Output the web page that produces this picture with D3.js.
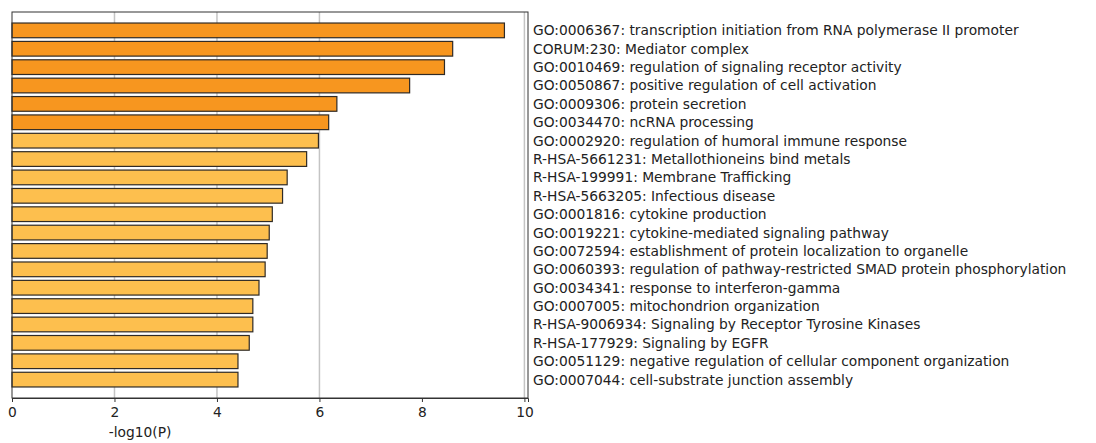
<!DOCTYPE html>
<html>
<head>
<meta charset="utf-8">
<script src="https://cdn.jsdelivr.net/npm/d3@7"></script>
<style>
  body { margin: 0; background: #fff; }
  svg { display: block; }
  text { font-family: "DejaVu Sans", sans-serif; }
</style>
</head>
<body>
<script>
const terms = [
  "GO:0006367: transcription initiation from RNA polymerase II promoter",
  "CORUM:230: Mediator complex",
  "GO:0010469: regulation of signaling receptor activity",
  "GO:0050867: positive regulation of cell activation",
  "GO:0009306: protein secretion",
  "GO:0034470: ncRNA processing",
  "GO:0002920: regulation of humoral immune response",
  "R-HSA-5661231: Metallothioneins bind metals",
  "R-HSA-199991: Membrane Trafficking",
  "R-HSA-5663205: Infectious disease",
  "GO:0001816: cytokine production",
  "GO:0019221: cytokine-mediated signaling pathway",
  "GO:0072594: establishment of protein localization to organelle",
  "GO:0060393: regulation of pathway-restricted SMAD protein phosphorylation",
  "GO:0034341: response to interferon-gamma",
  "GO:0007005: mitochondrion organization",
  "R-HSA-9006934: Signaling by Receptor Tyrosine Kinases",
  "R-HSA-177929: Signaling by EGFR",
  "GO:0051129: negative regulation of cellular component organization",
  "GO:0007044: cell-substrate junction assembly"
];
const logP = [9.61, 8.60, 8.44, 7.76, 6.34, 6.18, 5.98, 5.75, 5.37, 5.28,
              5.08, 5.02, 4.98, 4.94, 4.82, 4.70, 4.70, 4.63, 4.41, 4.41];
const tier = [1, 1, 1, 1, 1, 1, 0, 0, 0, 0, 0, 0, 0, 0, 0, 0, 0, 0, 0, 0];
const xTicks = [0, 2, 4, 6, 8, 10];
const gridVals = [2, 4, 6, 10];
const xLabel = "-log10(P)";

const W = 1096, H = 443;
const pL = 12, pR = 528, pT = 12, pB = 398;

const svg = d3.select("body").append("svg").attr("width", W).attr("height", H);

const x = d3.scaleLinear().domain([0, 10.07]).range([pL, pR]);
const y = d3.scaleLinear().domain([-1, terms.length]).range([pT, pB]);
const bh = (y(0.8) - y(0));
const color = d3.scaleOrdinal().domain([1, 0]).range(["#F7961F", "#FDBF4E"]);

// grid
svg.append("g").selectAll("line").data(gridVals).join("line")
  .attr("x1", d => x(d)).attr("x2", d => x(d))
  .attr("y1", pT).attr("y2", pB)
  .attr("stroke", "#c4c4c4").attr("stroke-width", 1.5);

// bars
svg.append("g").selectAll("rect").data(logP).join("rect")
  .attr("x", x(0))
  .attr("y", (d, i) => y(i) - bh / 2)
  .attr("width", d => x(d) - x(0))
  .attr("height", bh)
  .attr("fill", (d, i) => color(tier[i]))
  .attr("stroke", "#2f2a26").attr("stroke-width", 1.2);

// frame
svg.append("rect").attr("x", pL).attr("y", pT)
  .attr("width", pR - pL).attr("height", pB - pT)
  .attr("fill", "none").attr("stroke", "#333").attr("stroke-width", 1);

// x axis
const ax = svg.append("g").attr("transform", `translate(0,${pB})`)
  .call(d3.axisBottom(x).tickValues(xTicks).tickSize(4).tickPadding(5).tickFormat(d3.format("d")));
ax.select(".domain").attr("stroke", "#333");
ax.selectAll(".tick line").attr("stroke", "#333");
ax.selectAll(".tick text").attr("font-size", 13.8).attr("fill", "#222")
  .attr("font-family", "DejaVu Sans");

svg.append("text").attr("x", x(0) + (x(10) - x(0)) * 0.25).attr("y", 437)
  .attr("text-anchor", "middle").attr("font-size", 13.8).attr("fill", "#222")
  .text(xLabel);

// labels
svg.append("g").selectAll("text").data(terms).join("text")
  .attr("x", 533)
  .attr("y", (d, i) => y(i))
  .attr("dy", "0.36em")
  .attr("font-size", 13.8).attr("fill", "#222")
  .text(d => d);
</script>
</body>
</html>
